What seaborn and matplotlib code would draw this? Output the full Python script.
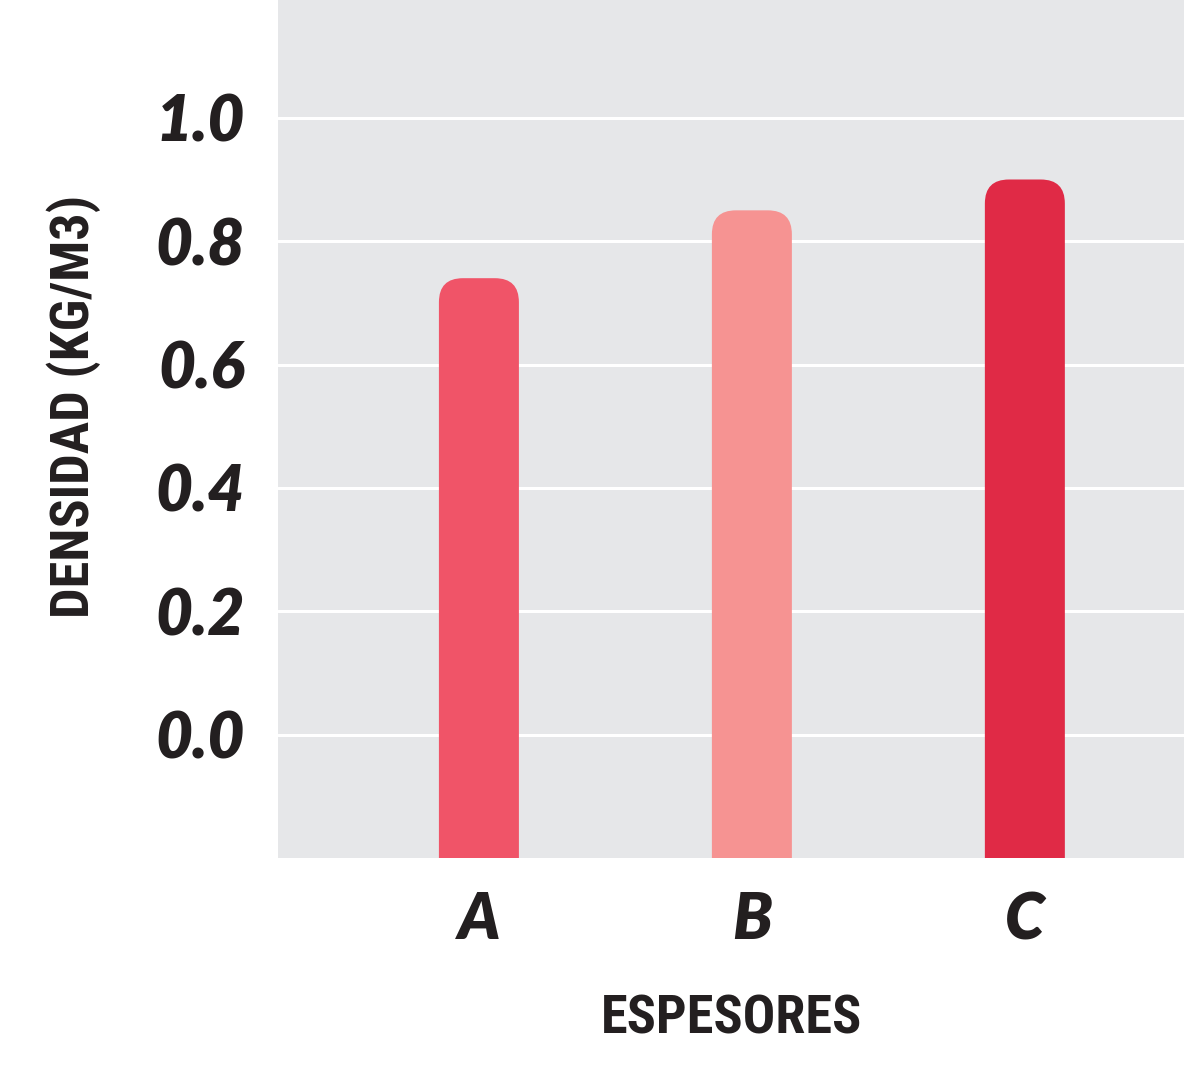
import matplotlib
matplotlib.use("Agg")
import matplotlib.pyplot as plt
import numpy as np
import pandas as pd
import seaborn as sns
from matplotlib.patches import FancyBboxPatch
from matplotlib import font_manager as fm

# --- data ---------------------------------------------------------------
espesores = ["A", "B", "C"]
densidad = [0.74, 0.85, 0.90]
colores = ["#f05468", "#f69392", "#e02a46"]
y_ticks = [0.0, 0.2, 0.4, 0.6, 0.8, 1.0]
x_title = "ESPESORES"
y_title = "DENSIDAD (KG/M3)"


def first_family(candidates, fallback="DejaVu Sans"):
    for fam in candidates:
        try:
            fm.findfont(fm.FontProperties(family=fam), fallback_to_default=False)
            return fam
        except Exception:
            continue
    return fallback


sns.set_theme(style="darkgrid", rc={
    "axes.facecolor": "#e6e7e9",
    "figure.facecolor": "white",
    "grid.color": "white",
    "grid.linewidth": 2.2,
})

tick_family = first_family(["Lato", "Open Sans", "DejaVu Sans"])
cond_family = first_family(["Liberation Sans Narrow", "DejaVu Sans Condensed",
                            "Roboto Condensed"])
tick_font = fm.FontProperties(family=tick_family, weight="heavy", style="italic", size=46)
title_font = fm.FontProperties(family=cond_family, weight="bold", stretch="condensed", size=39)
ink = "#231f20"

fig = plt.figure(figsize=(11.84, 10.66), dpi=100)
W, H = 1184, 1066
ax = fig.add_axes([278 / W, 1 - 858 / H, 1 - 278 / W, 858 / H])

df = pd.DataFrame({"espesor": espesores, "densidad": densidad})
bar_w = 80 / 273
sns.barplot(data=df, x="espesor", y="densidad", hue="espesor", palette=colores,
            width=bar_w, saturation=1, legend=False, ax=ax)

xlim = (-0.736, 2.583)
ylim = (-0.2, 1.191)
ax.set_xlim(*xlim)
ax.set_ylim(*ylim)

# bars rise from the bottom of the frame and have rounded tops
px_x = (W - 278) / (xlim[1] - xlim[0])
px_y = 858 / (ylim[1] - ylim[0])
radius_px = 24
r_x = radius_px / px_x
aspect = px_x / px_y
floor = ylim[0]
for patch in list(ax.patches):
    x0, w, h = patch.get_x(), patch.get_width(), patch.get_height()
    fc = patch.get_facecolor()
    patch.remove()
    ax.add_patch(FancyBboxPatch(
        (x0, floor - 0.1), w, h - floor + 0.1,
        boxstyle=f"round,pad=0,rounding_size={r_x}",
        mutation_aspect=aspect, facecolor=fc, edgecolor="none", zorder=2))

ax.set_axisbelow(True)
ax.xaxis.grid(False)
ax.yaxis.grid(True)
for s in ax.spines.values():
    s.set_visible(False)

ax.set_yticks(y_ticks)
ax.set_yticklabels([f"{v:.1f}" for v in y_ticks])
ax.tick_params(axis="y", length=0, pad=24)
ax.tick_params(axis="x", length=4, width=1.2, color="#6d6e70", pad=20, direction="out")
for lab in ax.get_yticklabels() + ax.get_xticklabels():
    lab.set_fontproperties(tick_font)
    lab.set_color(ink)

ax.set_xlabel(x_title, fontproperties=title_font, color=ink, va="center", ha="center")
ax.set_ylabel(y_title, fontproperties=title_font, color=ink, va="center", ha="center",
              rotation=90)
ax.xaxis.set_label_coords(0.5, (858 - 1019) / 858)
ax.yaxis.set_label_coords((74 - 278) / (W - 278), (858 - 406) / 858)

fig.savefig("out.png", dpi=100)
